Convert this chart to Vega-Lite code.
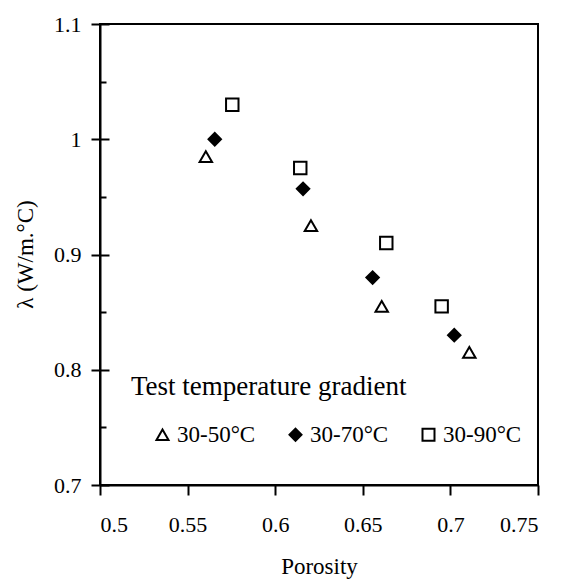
{
  "$schema": "https://vega.github.io/schema/vega-lite/v6.json",
  "width": 438,
  "height": 461,
  "autosize": {"type": "none"},
  "padding": {"left": 100, "top": 24, "right": 25, "bottom": 95},
  "background": "white",
  "config": {
    "view": {"stroke": "black", "strokeWidth": 2},
    "font": "Liberation Serif",
    "axis": {
      "domainColor": "black", "domainWidth": 2,
      "tickColor": "black", "tickWidth": 2,
      "labelColor": "black", "titleColor": "black",
      "labelFont": "Liberation Serif", "titleFont": "Liberation Serif",
      "labelFontSize": 22, "titleFontSize": 23, "titleFontWeight": "normal",
      "grid": false
    },
    "legend": {
      "titleFont": "Liberation Serif", "titleFontSize": 27, "titleFontWeight": "normal", "titleColor": "black",
      "labelFont": "Liberation Serif", "labelFontSize": 23, "labelColor": "black",
      "titleLimit": 500, "labelLimit": 200,
      "orient": "none", "legendX": 31, "legendY": 350, "direction": "horizontal",
      "titlePadding": 22,
      "symbolSize": 144, "symbolStrokeWidth": 2, "symbolStrokeColor": "black",
      "symbolOffset": 20, "labelOffset": 3, "columnPadding": 8, "padding": 0
    }
  },
  "data": {
    "values": [
      {"series": "30-50°C", "porosity": 0.5604, "lambda": 0.985},
      {"series": "30-50°C", "porosity": 0.6204, "lambda": 0.925},
      {"series": "30-50°C", "porosity": 0.6608, "lambda": 0.855},
      {"series": "30-50°C", "porosity": 0.7108, "lambda": 0.815},
      {"series": "30-70°C", "porosity": 0.5655, "lambda": 1.0},
      {"series": "30-70°C", "porosity": 0.6159, "lambda": 0.957},
      {"series": "30-70°C", "porosity": 0.6556, "lambda": 0.88},
      {"series": "30-70°C", "porosity": 0.7022, "lambda": 0.83},
      {"series": "30-90°C", "porosity": 0.5755, "lambda": 1.03},
      {"series": "30-90°C", "porosity": 0.6143, "lambda": 0.975},
      {"series": "30-90°C", "porosity": 0.6634, "lambda": 0.91},
      {"series": "30-90°C", "porosity": 0.695, "lambda": 0.855}
    ]
  },
  "layer": [
    {
      "mark": {"type": "point", "filled": true, "strokeWidth": 2, "opacity": 1, "size": 155},
      "encoding": {
        "x": {
          "field": "porosity", "type": "quantitative",
          "scale": {"domain": [0.5, 0.75], "nice": false, "zero": false},
          "axis": {
            "title": "Porosity",
            "values": [0.5, 0.55, 0.6, 0.65, 0.7, 0.75],
            "format": ".2~f", "tickSize": 10, "labelPadding": 19,
            "titleY": 70
          }
        },
        "y": {
          "field": "lambda", "type": "quantitative",
          "scale": {"domain": [0.7, 1.1], "nice": false, "zero": false},
          "axis": {
            "title": "λ (W/m.°C)",
            "values": [0.7, 0.8, 0.9, 1.0, 1.1],
            "format": ".1~f", "tickSize": 9, "labelPadding": 10,
            "titleX": -63, "titleY": 230
          }
        },
        "shape": {
          "field": "series", "type": "nominal",
          "scale": {"domain": ["30-50°C", "30-70°C", "30-90°C"], "range": ["triangle-up", "diamond", "square"]},
          "legend": {"title": "Test temperature gradient"}
        },
        "fill": {
          "field": "series", "type": "nominal",
          "scale": {"domain": ["30-50°C", "30-70°C", "30-90°C"], "range": ["white", "black", "white"]},
          "legend": {"title": "Test temperature gradient"}
        },
        "stroke": {
          "field": "series", "type": "nominal",
          "scale": {"domain": ["30-50°C", "30-70°C", "30-90°C"], "range": ["black", "black", "black"]},
          "legend": {"title": "Test temperature gradient"}
        }
      }
    },
    {
      "mark": {"type": "point", "opacity": 0},
      "encoding": {
        "x": {"field": "porosity", "type": "quantitative"},
        "y": {
          "field": "lambda", "type": "quantitative",
          "axis": {
            "orient": "left", "title": null, "labels": false, "domain": false,
            "values": [0.7, 0.75, 0.8, 0.85, 0.9, 0.95, 1.0, 1.05, 1.1],
            "tickSize": {"condition": {"test": "round(datum.value*20)%2==0", "value": -9}, "value": -6}
          }
        }
      }
    }
  ],
  "resolve": {"axis": {"y": "independent"}}
}
